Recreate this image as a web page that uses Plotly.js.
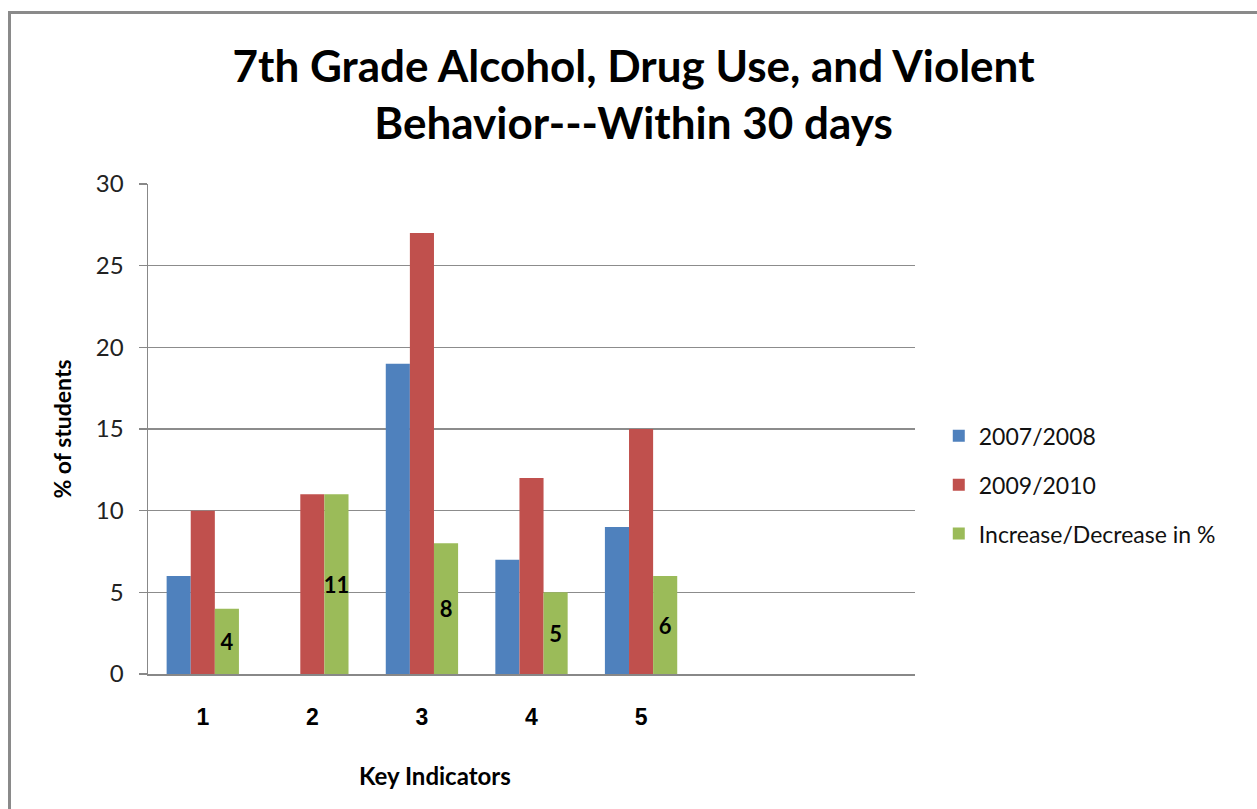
<!DOCTYPE html>
<html>
<head>
<meta charset="utf-8">
<script src="https://cdn.plot.ly/plotly-3.0.1.min.js"></script>
<style>
  html, body { margin: 0; padding: 0; background: #fff; }
  #wrap { position: relative; width: 1257px; height: 809px; overflow: hidden; }
  #chart { position: absolute; left: 0; top: 0; width: 1257px; height: 809px; }
  #frame { position: absolute; left: 8px; top: 11px; width: 1300px; height: 900px;
           border-top: 3px solid #8a8a8a; border-left: 3px solid #8a8a8a; pointer-events: none; }
</style>
</head>
<body>
<div id="wrap">
  <div id="chart"></div>
  <div id="frame"></div>
</div>
<script>
const categories = [1, 2, 3, 4, 5];
const tickLabels = ["1", "2", "3", "4", "5"];
const seriesNames = ["2007/2008", "2009/2010", "Increase/Decrease in %"];
const values2007 = [6, null, 19, 7, 9];
const values2009 = [10, 11, 27, 12, 15];
const valuesChange = [4, 11, 8, 5, 6];
const colors = ["#4F81BD", "#C0504D", "#9BBB59"];

const calib = "Lato, 'Open Sans', sans-serif";

const traces = [
  { type: "bar", name: seriesNames[0], x: categories, y: values2007,
    marker: { color: colors[0] }, legendgroup: "a", hoverinfo: "skip" },
  { type: "bar", name: seriesNames[1], x: categories, y: values2009,
    marker: { color: colors[1] }, legendgroup: "b", hoverinfo: "skip" },
  { type: "bar", name: seriesNames[2], x: categories, y: valuesChange,
    marker: { color: colors[2] }, legendgroup: "c", hoverinfo: "skip",
    text: valuesChange.map(String), textposition: "inside",
    insidetextanchor: "middle", textangle: 0, constraintext: "none",
    textfont: { family: calib, size: 22, color: "#000", weight: "bold" } }
];

const layout = {
  width: 1257, height: 809,
  paper_bgcolor: "#fff", plot_bgcolor: "#fff",
  margin: { l: 148, r: 342, t: 184, b: 135 },
  barmode: "group", bargap: 0.34, bargroupgap: 0,
  showlegend: true,
  title: {
    text: "<b>7th Grade Alcohol, Drug Use, and Violent<br>Behavior---Within 30 days</b>",
    font: { family: calib, size: 44, color: "#000" },
    xref: "container", x: 0.504, xanchor: "center",
    yref: "container", y: 1 - 82 / 809, yanchor: "middle"
  },
  legend: {
    x: 1.031, xanchor: "left", y: 0.386, yanchor: "middle",
    font: { family: calib, size: 23, color: "#111" },
    itemwidth: 30, tracegroupgap: 16, traceorder: "grouped",
    bgcolor: "rgba(0,0,0,0)"
  },
  xaxis: {
    range: [0.5, 7.5], tickvals: categories, ticktext: tickLabels,
    showgrid: false, zeroline: false,
    showline: true, linecolor: "#888", linewidth: 1.5,
    ticks: "", ticklabelstandoff: 22,
    tickfont: { family: "'Liberation Sans', Arial, sans-serif", size: 23, color: "#000", weight: "bold" },
    fixedrange: true
  },
  yaxis: {
    range: [0, 30], tickvals: [0, 5, 10, 15, 20, 25, 30],
    showgrid: true, gridcolor: "#8c8c8c", gridwidth: 1.2,
    zeroline: false, showline: true, linecolor: "#888", linewidth: 1.5,
    ticks: "outside", ticklen: 8, tickcolor: "#888", tickwidth: 1.2,
    ticklabelstandoff: 10,
    tickfont: { family: calib, size: 24, color: "#222" },
    title: { text: "<b>% of students</b>", font: { family: calib, size: 23, color: "#000" }, standoff: 18 },
    fixedrange: true
  },
  annotations: [
    { text: "<b>Key Indicators</b>", xref: "paper", yref: "paper",
      x: (435 - 148) / 767, y: -(775 - 674) / 490, xanchor: "center", yanchor: "middle",
      showarrow: false, font: { family: calib, size: 24, color: "#000" } }
  ]
};

Plotly.newPlot("chart", traces, layout, { displayModeBar: false, staticPlot: true });
</script>
</body>
</html>
